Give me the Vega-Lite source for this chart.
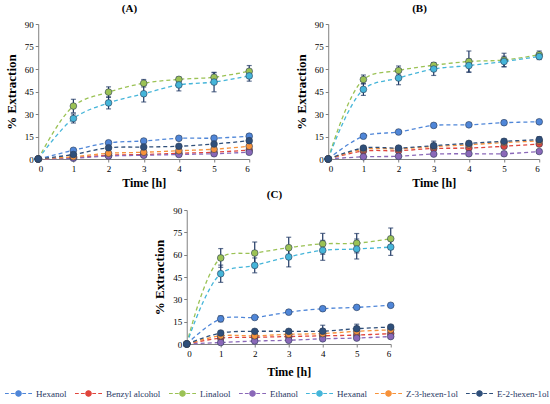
{
  "$schema": "https://vega.github.io/schema/vega-lite/v6.json",
  "padding": {"left": 4, "right": 6, "top": 3, "bottom": 2},
  "background": "white",
  "datasets": {
    "d": [
      {"p":"A","s":"Hexanol","t":0,"v":0,"e":0},{"p":"A","s":"Hexanol","t":1,"v":5.8,"e":1},{"p":"A","s":"Hexanol","t":2,"v":10.8,"e":1},{"p":"A","s":"Hexanol","t":3,"v":12,"e":1},{"p":"A","s":"Hexanol","t":4,"v":13.8,"e":1},{"p":"A","s":"Hexanol","t":5,"v":13.9,"e":1},{"p":"A","s":"Hexanol","t":6,"v":15.2,"e":1.2},
      {"p":"A","s":"Benzyl alcohol","t":0,"v":0,"e":0},{"p":"A","s":"Benzyl alcohol","t":1,"v":1,"e":0.5},{"p":"A","s":"Benzyl alcohol","t":2,"v":2.5,"e":0.5},{"p":"A","s":"Benzyl alcohol","t":3,"v":3,"e":0.5},{"p":"A","s":"Benzyl alcohol","t":4,"v":3.8,"e":0.5},{"p":"A","s":"Benzyl alcohol","t":5,"v":4.5,"e":0.5},{"p":"A","s":"Benzyl alcohol","t":6,"v":6,"e":0.5},
      {"p":"A","s":"Linalool","t":0,"v":0,"e":0},{"p":"A","s":"Linalool","t":1,"v":35.3,"e":4.5},{"p":"A","s":"Linalool","t":2,"v":44.6,"e":3.5},{"p":"A","s":"Linalool","t":3,"v":50.5,"e":2.5},{"p":"A","s":"Linalool","t":4,"v":53.1,"e":1.5},{"p":"A","s":"Linalool","t":5,"v":54.5,"e":3},{"p":"A","s":"Linalool","t":6,"v":58.5,"e":3.8},
      {"p":"A","s":"Ethanol","t":0,"v":0,"e":0},{"p":"A","s":"Ethanol","t":1,"v":0.5,"e":0.5},{"p":"A","s":"Ethanol","t":2,"v":2,"e":0.5},{"p":"A","s":"Ethanol","t":3,"v":2.5,"e":0.5},{"p":"A","s":"Ethanol","t":4,"v":3,"e":0.5},{"p":"A","s":"Ethanol","t":5,"v":3.5,"e":0.5},{"p":"A","s":"Ethanol","t":6,"v":4.5,"e":0.5},
      {"p":"A","s":"Hexanal","t":0,"v":0,"e":0},{"p":"A","s":"Hexanal","t":1,"v":27,"e":3},{"p":"A","s":"Hexanal","t":2,"v":37.4,"e":4},{"p":"A","s":"Hexanal","t":3,"v":43.5,"e":5.5},{"p":"A","s":"Hexanal","t":4,"v":49.4,"e":4},{"p":"A","s":"Hexanal","t":5,"v":51.3,"e":6.5},{"p":"A","s":"Hexanal","t":6,"v":55.4,"e":3.5},
      {"p":"A","s":"Z-3-hexen-1ol","t":0,"v":0,"e":0},{"p":"A","s":"Z-3-hexen-1ol","t":1,"v":1.5,"e":0.8},{"p":"A","s":"Z-3-hexen-1ol","t":2,"v":3.8,"e":0.8},{"p":"A","s":"Z-3-hexen-1ol","t":3,"v":4.5,"e":0.8},{"p":"A","s":"Z-3-hexen-1ol","t":4,"v":5.5,"e":0.8},{"p":"A","s":"Z-3-hexen-1ol","t":5,"v":6.5,"e":0.8},{"p":"A","s":"Z-3-hexen-1ol","t":6,"v":8.5,"e":0.8},
      {"p":"A","s":"E-2-hexen-1ol","t":0,"v":0,"e":0},{"p":"A","s":"E-2-hexen-1ol","t":1,"v":3,"e":1},{"p":"A","s":"E-2-hexen-1ol","t":2,"v":7.5,"e":1},{"p":"A","s":"E-2-hexen-1ol","t":3,"v":8,"e":1},{"p":"A","s":"E-2-hexen-1ol","t":4,"v":8.5,"e":1},{"p":"A","s":"E-2-hexen-1ol","t":5,"v":10,"e":1},{"p":"A","s":"E-2-hexen-1ol","t":6,"v":12.2,"e":1},

      {"p":"B","s":"Hexanol","t":0,"v":0,"e":0},{"p":"B","s":"Hexanol","t":1,"v":15.2,"e":1},{"p":"B","s":"Hexanol","t":2,"v":18,"e":1},{"p":"B","s":"Hexanol","t":3,"v":22.4,"e":1},{"p":"B","s":"Hexanol","t":4,"v":22.8,"e":1},{"p":"B","s":"Hexanol","t":5,"v":24.2,"e":1},{"p":"B","s":"Hexanol","t":6,"v":24.8,"e":1},
      {"p":"B","s":"Benzyl alcohol","t":0,"v":0,"e":0},{"p":"B","s":"Benzyl alcohol","t":1,"v":5.3,"e":0.5},{"p":"B","s":"Benzyl alcohol","t":2,"v":5.5,"e":0.5},{"p":"B","s":"Benzyl alcohol","t":3,"v":7,"e":0.5},{"p":"B","s":"Benzyl alcohol","t":4,"v":7.3,"e":0.5},{"p":"B","s":"Benzyl alcohol","t":5,"v":8.5,"e":0.5},{"p":"B","s":"Benzyl alcohol","t":6,"v":10,"e":0.5},
      {"p":"B","s":"Linalool","t":0,"v":0,"e":0},{"p":"B","s":"Linalool","t":1,"v":53,"e":3},{"p":"B","s":"Linalool","t":2,"v":59,"e":3},{"p":"B","s":"Linalool","t":3,"v":62.5,"e":1.5},{"p":"B","s":"Linalool","t":4,"v":65,"e":7},{"p":"B","s":"Linalool","t":5,"v":66,"e":4.5},{"p":"B","s":"Linalool","t":6,"v":69.5,"e":2.5},
      {"p":"B","s":"Ethanol","t":0,"v":0,"e":0},{"p":"B","s":"Ethanol","t":1,"v":1.5,"e":0.5},{"p":"B","s":"Ethanol","t":2,"v":1.8,"e":0.5},{"p":"B","s":"Ethanol","t":3,"v":3.3,"e":0.5},{"p":"B","s":"Ethanol","t":4,"v":3.5,"e":0.5},{"p":"B","s":"Ethanol","t":5,"v":3.5,"e":0.5},{"p":"B","s":"Ethanol","t":6,"v":5,"e":0.5},
      {"p":"B","s":"Hexanal","t":0,"v":0,"e":0},{"p":"B","s":"Hexanal","t":1,"v":46.4,"e":4},{"p":"B","s":"Hexanal","t":2,"v":54,"e":4.5},{"p":"B","s":"Hexanal","t":3,"v":60,"e":4.3},{"p":"B","s":"Hexanal","t":4,"v":62.3,"e":4.5},{"p":"B","s":"Hexanal","t":5,"v":65,"e":3.5},{"p":"B","s":"Hexanal","t":6,"v":68.3,"e":2},
      {"p":"B","s":"Z-3-hexen-1ol","t":0,"v":0,"e":0},{"p":"B","s":"Z-3-hexen-1ol","t":1,"v":6.5,"e":0.8},{"p":"B","s":"Z-3-hexen-1ol","t":2,"v":6.8,"e":0.8},{"p":"B","s":"Z-3-hexen-1ol","t":3,"v":8.3,"e":0.8},{"p":"B","s":"Z-3-hexen-1ol","t":4,"v":9.5,"e":0.8},{"p":"B","s":"Z-3-hexen-1ol","t":5,"v":11,"e":0.8},{"p":"B","s":"Z-3-hexen-1ol","t":6,"v":12,"e":0.8},
      {"p":"B","s":"E-2-hexen-1ol","t":0,"v":0,"e":0},{"p":"B","s":"E-2-hexen-1ol","t":1,"v":7.3,"e":1},{"p":"B","s":"E-2-hexen-1ol","t":2,"v":7.3,"e":1},{"p":"B","s":"E-2-hexen-1ol","t":3,"v":8.9,"e":3},{"p":"B","s":"E-2-hexen-1ol","t":4,"v":10.4,"e":1},{"p":"B","s":"E-2-hexen-1ol","t":5,"v":11.8,"e":1.5},{"p":"B","s":"E-2-hexen-1ol","t":6,"v":12.9,"e":2},

      {"p":"C","s":"Hexanol","t":0,"v":0,"e":0},{"p":"C","s":"Hexanol","t":1,"v":16.9,"e":2},{"p":"C","s":"Hexanol","t":2,"v":17.8,"e":1},{"p":"C","s":"Hexanol","t":3,"v":21.4,"e":1},{"p":"C","s":"Hexanol","t":4,"v":23.7,"e":1},{"p":"C","s":"Hexanol","t":5,"v":24.6,"e":1},{"p":"C","s":"Hexanol","t":6,"v":26,"e":1},
      {"p":"C","s":"Benzyl alcohol","t":0,"v":0,"e":0},{"p":"C","s":"Benzyl alcohol","t":1,"v":4,"e":0.5},{"p":"C","s":"Benzyl alcohol","t":2,"v":4.5,"e":0.5},{"p":"C","s":"Benzyl alcohol","t":3,"v":5,"e":0.5},{"p":"C","s":"Benzyl alcohol","t":4,"v":5.5,"e":0.5},{"p":"C","s":"Benzyl alcohol","t":5,"v":6,"e":0.5},{"p":"C","s":"Benzyl alcohol","t":6,"v":7,"e":0.5},
      {"p":"C","s":"Linalool","t":0,"v":0,"e":0},{"p":"C","s":"Linalool","t":1,"v":57.8,"e":6.3},{"p":"C","s":"Linalool","t":2,"v":61.1,"e":7.4},{"p":"C","s":"Linalool","t":3,"v":64.7,"e":7},{"p":"C","s":"Linalool","t":4,"v":67.3,"e":7},{"p":"C","s":"Linalool","t":5,"v":67.7,"e":6.5},{"p":"C","s":"Linalool","t":6,"v":70.7,"e":7.2},
      {"p":"C","s":"Ethanol","t":0,"v":0,"e":0},{"p":"C","s":"Ethanol","t":1,"v":1,"e":0.5},{"p":"C","s":"Ethanol","t":2,"v":2,"e":0.5},{"p":"C","s":"Ethanol","t":3,"v":2.5,"e":0.5},{"p":"C","s":"Ethanol","t":4,"v":3.5,"e":0.5},{"p":"C","s":"Ethanol","t":5,"v":4,"e":0.5},{"p":"C","s":"Ethanol","t":6,"v":5,"e":0.5},
      {"p":"C","s":"Hexanal","t":0,"v":0,"e":0},{"p":"C","s":"Hexanal","t":1,"v":47.2,"e":5.8},{"p":"C","s":"Hexanal","t":2,"v":52.8,"e":5},{"p":"C","s":"Hexanal","t":3,"v":58.5,"e":6.7},{"p":"C","s":"Hexanal","t":4,"v":62.9,"e":6.7},{"p":"C","s":"Hexanal","t":5,"v":63.8,"e":6.7},{"p":"C","s":"Hexanal","t":6,"v":65.1,"e":5.6},
      {"p":"C","s":"Z-3-hexen-1ol","t":0,"v":0,"e":0},{"p":"C","s":"Z-3-hexen-1ol","t":1,"v":5.5,"e":0.8},{"p":"C","s":"Z-3-hexen-1ol","t":2,"v":5.5,"e":0.8},{"p":"C","s":"Z-3-hexen-1ol","t":3,"v":6.5,"e":0.8},{"p":"C","s":"Z-3-hexen-1ol","t":4,"v":7,"e":0.8},{"p":"C","s":"Z-3-hexen-1ol","t":5,"v":8.5,"e":0.8},{"p":"C","s":"Z-3-hexen-1ol","t":6,"v":9.5,"e":0.8},
      {"p":"C","s":"E-2-hexen-1ol","t":0,"v":0,"e":0},{"p":"C","s":"E-2-hexen-1ol","t":1,"v":7.4,"e":1},{"p":"C","s":"E-2-hexen-1ol","t":2,"v":8.5,"e":1},{"p":"C","s":"E-2-hexen-1ol","t":3,"v":8.5,"e":1},{"p":"C","s":"E-2-hexen-1ol","t":4,"v":8.6,"e":4},{"p":"C","s":"E-2-hexen-1ol","t":5,"v":10.3,"e":3},{"p":"C","s":"E-2-hexen-1ol","t":6,"v":11.4,"e":1}
    ]
  },
  "data": {"name": "d"},
  "vconcat": [
    {
      "hconcat": [
        {
          "width": 211, "height": 135,
          "title": {"text": "(A)"},
          "transform": [{"filter": "datum.p == 'A'"}],
          "encoding": {
            "x": {"field": "t", "type": "quantitative", "scale": {"domain": [0, 6], "nice": false}, "axis": {"values": [0,1,2,3,4,5,6], "title": "Time [h]", "titlePadding": 4, "titleFontSize": 12}},
            "y": {"field": "v", "type": "quantitative", "scale": {"domain": [0, 90], "nice": false}, "axis": {"values": [0,15,30,45,60,75,90], "title": "% Extraction", "titlePadding": 6}}
          },
          "layer": [
            {"mark": {"type": "line", "strokeDash": [4, 3], "strokeWidth": 1.3, "interpolate": "catmull-rom"},
             "encoding": {"color": {"field": "s", "type": "nominal", "scale": {"domain": ["Hexanol","Benzyl alcohol","Linalool","Ethanol","Hexanal","Z-3-hexen-1ol","E-2-hexen-1ol"], "range": ["#4f86d8","#e0453c","#9bc255","#8a68b8","#45b5d9","#f7923a","#2f4f7a"]}, "legend": {"title": null}}}},
            {"transform": [{"filter": "datum.e > 0"}], "mark": {"type": "errorbar", "ticks": true, "color": "#1f3864", "thickness": 1.2}, "encoding": {"yError": {"field": "e"}}},
            {"mark": {"type": "point", "filled": true, "size": 45, "opacity": 1, "stroke": "#2a3b55", "strokeWidth": 0.6},
             "encoding": {"color": {"field": "s", "type": "nominal", "legend": {"title": null}}}}
          ]
        },
        {
          "width": 211, "height": 135,
          "title": {"text": "(B)"},
          "transform": [{"filter": "datum.p == 'B'"}],
          "encoding": {
            "x": {"field": "t", "type": "quantitative", "scale": {"domain": [0, 6], "nice": false}, "axis": {"values": [0,1,2,3,4,5,6], "title": "Time [h]", "titlePadding": 4, "titleFontSize": 12}},
            "y": {"field": "v", "type": "quantitative", "scale": {"domain": [0, 90], "nice": false}, "axis": {"values": [0,15,30,45,60,75,90], "title": "% Extraction", "titlePadding": 6}}
          },
          "layer": [
            {"mark": {"type": "line", "strokeDash": [4, 3], "strokeWidth": 1.3, "interpolate": "catmull-rom"},
             "encoding": {"color": {"field": "s", "type": "nominal", "legend": {"title": null}}}},
            {"transform": [{"filter": "datum.e > 0"}], "mark": {"type": "errorbar", "ticks": true, "color": "#1f3864", "thickness": 1.2}, "encoding": {"yError": {"field": "e"}}},
            {"mark": {"type": "point", "filled": true, "size": 45, "opacity": 1, "stroke": "#2a3b55", "strokeWidth": 0.6},
             "encoding": {"color": {"field": "s", "type": "nominal", "legend": {"title": null}}}}
          ]
        }
      ],
      "spacing": 41
    },
    {
      "width": 204, "height": 134,
      "title": {"text": "(C)"},
      "transform": [{"filter": "datum.p == 'C'"}],
      "encoding": {
        "x": {"field": "t", "type": "quantitative", "scale": {"domain": [0, 6], "nice": false}, "axis": {"values": [0,1,2,3,4,5,6], "title": "Time [h]", "titlePadding": 8, "titleFontSize": 12}},
        "y": {"field": "v", "type": "quantitative", "scale": {"domain": [0, 90], "nice": false}, "axis": {"values": [0,15,30,45,60,75,90], "title": "% Extraction", "titlePadding": 6}}
      },
      "layer": [
        {"mark": {"type": "line", "strokeDash": [4, 3], "strokeWidth": 1.3, "interpolate": "catmull-rom"},
         "encoding": {"color": {"field": "s", "type": "nominal", "legend": {"title": null}}}},
        {"transform": [{"filter": "datum.e > 0"}], "mark": {"type": "errorbar", "ticks": true, "color": "#1f3864", "thickness": 1.2}, "encoding": {"yError": {"field": "e"}}},
        {"mark": {"type": "point", "filled": true, "size": 45, "opacity": 1, "stroke": "#2a3b55", "strokeWidth": 0.6},
         "encoding": {"color": {"field": "s", "type": "nominal", "legend": {"title": null}}}}
      ]
    }
  ],
  "spacing": 1,
  "center": true,
  "config": {
    "view": {"stroke": null},
    "title": {"font": "Liberation Serif", "fontSize": 11, "fontWeight": "bold", "color": "#000", "offset": 6, "frame": "bounds"},
    "axis": {"grid": false, "labelFont": "Liberation Serif", "labelFontSize": 9, "labelColor": "#000", "titleFont": "Liberation Serif", "titleFontSize": 13, "titleFontWeight": "bold", "titleColor": "#000", "domainColor": "#808080", "tickColor": "#808080", "tickSize": 3, "labelPadding": 2},
    "legend": {"orient": "none", "legendX": -34, "legendY": 355, "direction": "horizontal", "columns": 7, "gridAlign": "none", "labelFont": "Liberation Serif", "labelFontSize": 9, "labelColor": "#1f3864", "symbolType": "M-1,0H-0.72M-0.56,0H-0.28M0.28,0H0.56M0.72,0H1M-0.2,0A0.2,0.2 0 1,1 0.2,0A0.2,0.2 0 1,1 -0.2,0Z", "symbolSize": 729, "symbolStrokeWidth": 1.2, "columnPadding": 5, "labelOffset": 3, "padding": 0}
  }
}
